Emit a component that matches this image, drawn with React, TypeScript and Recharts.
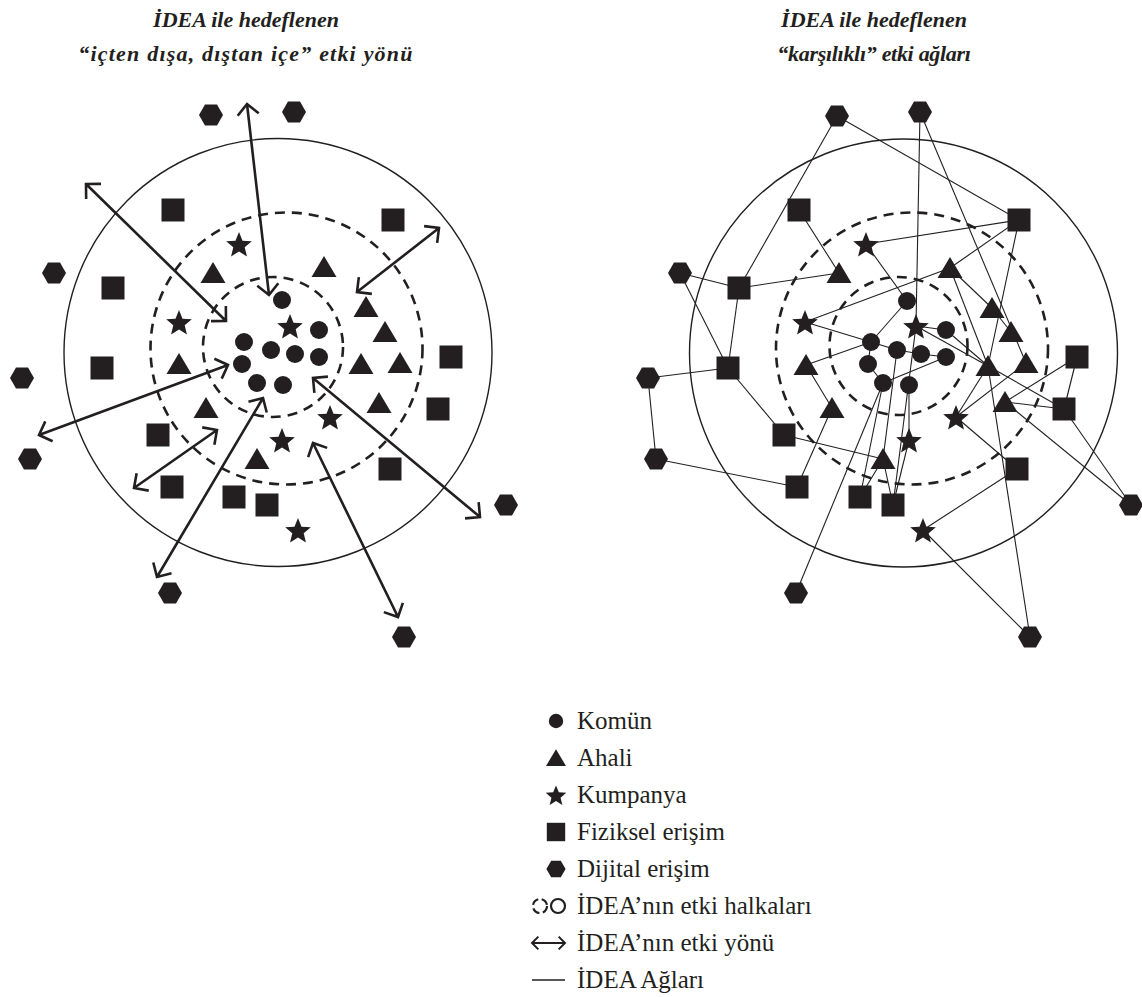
import React from "react";
import { ScatterChart, Scatter, XAxis, YAxis, ReferenceLine } from "recharts";

const INK = "#231f20";
const W = 1142;
const H = 660;

// ---- left diagram: "içten dışa, dıştan içe" (page pixel coords) ----
const leftKomun = [
  { x: 282, y: 300 }, { x: 319, y: 330 }, { x: 244, y: 342 }, { x: 271, y: 350 }, { x: 295, y: 354 },
  { x: 319, y: 357 }, { x: 242, y: 364 }, { x: 257, y: 383 }, { x: 283, y: 385 },
];
const leftAhali = [
  { x: 213, y: 273 }, { x: 324, y: 267 }, { x: 366, y: 307 }, { x: 385, y: 332 }, { x: 179, y: 364 },
  { x: 361, y: 364 }, { x: 400, y: 363 }, { x: 206, y: 408 }, { x: 379, y: 403 }, { x: 257, y: 459 },
];
const leftKumpanya = [
  { x: 239, y: 244 }, { x: 179, y: 322 }, { x: 290, y: 326 }, { x: 330, y: 417 }, { x: 282, y: 440 }, { x: 298, y: 530 },
];
const leftFiziksel = [
  { x: 173, y: 210 }, { x: 113, y: 288 }, { x: 102, y: 368 }, { x: 393, y: 220 }, { x: 451, y: 357 }, { x: 438, y: 409 },
  { x: 158, y: 435 }, { x: 172, y: 487 }, { x: 234, y: 497 }, { x: 267, y: 505 }, { x: 390, y: 469 },
];
const leftDijital = [
  { x: 211, y: 115 }, { x: 294, y: 112 }, { x: 54, y: 273 }, { x: 22, y: 378 },
  { x: 30, y: 459 }, { x: 170, y: 593 }, { x: 506, y: 505 }, { x: 404, y: 637 },
];
const leftArrows = [
  [{ x: 86, y: 184 }, { x: 226, y: 321 }],
  [{ x: 247, y: 104 }, { x: 269, y: 295 }],
  [{ x: 439, y: 228 }, { x: 357, y: 292 }],
  [{ x: 39, y: 435 }, { x: 228, y: 365 }],
  [{ x: 134, y: 488 }, { x: 217, y: 430 }],
  [{ x: 157, y: 577 }, { x: 263, y: 398 }],
  [{ x: 313, y: 378 }, { x: 480, y: 517 }],
  [{ x: 313, y: 443 }, { x: 398, y: 617 }],
];
const leftRings = [
  { x: 278, y: 352.5, r: 214, dashed: false },
  { x: 286.5, y: 348.5, r: 136, dashed: true },
  { x: 273, y: 347, r: 70, dashed: true },
];

// ---- right diagram: "karşılıklı" ----
const rightKomun = [
  { id: "c1", x: 907, y: 301 }, { id: "c2", x: 946, y: 330 }, { id: "c3", x: 871, y: 342 },
  { id: "c4", x: 897, y: 350 }, { id: "c5", x: 921, y: 354 }, { id: "c6", x: 946, y: 357 },
  { id: "c7", x: 868, y: 364 }, { id: "c8", x: 883, y: 383 }, { id: "c9", x: 909, y: 385 },
];
const rightAhali = [
  { id: "t1", x: 839, y: 273 }, { id: "t2", x: 950, y: 268 }, { id: "t3", x: 992, y: 308 },
  { id: "t4", x: 1011, y: 332 }, { id: "t5", x: 806, y: 365 }, { id: "t6", x: 988, y: 366 },
  { id: "t7", x: 1026, y: 363 }, { id: "t8", x: 832, y: 408 }, { id: "t9", x: 1005, y: 402 },
  { id: "t10", x: 883, y: 459 },
];
const rightKumpanya = [
  { id: "k1", x: 866, y: 244 }, { id: "k2", x: 805, y: 322 }, { id: "k3", x: 916, y: 326 },
  { id: "k4", x: 956, y: 417 }, { id: "k5", x: 909, y: 440 }, { id: "k6", x: 923, y: 530 },
];
const rightFiziksel = [
  { id: "s1", x: 799, y: 210 }, { id: "s2", x: 739, y: 288 }, { id: "s3", x: 728, y: 368 },
  { id: "s4", x: 1019, y: 220 }, { id: "s5", x: 1077, y: 357 }, { id: "s6", x: 1064, y: 409 },
  { id: "s7", x: 784, y: 435 }, { id: "s8", x: 797, y: 487 }, { id: "s9", x: 860, y: 497 },
  { id: "s10", x: 893, y: 505 }, { id: "s11", x: 1017, y: 469 },
];
const rightDijital = [
  { id: "d1", x: 837, y: 116 }, { id: "d2", x: 920, y: 112 }, { id: "d3", x: 680, y: 273 },
  { id: "d4", x: 648, y: 378 }, { id: "d5", x: 656, y: 459 }, { id: "d6", x: 796, y: 593 },
  { id: "d7", x: 1131, y: 505 }, { id: "d8", x: 1030, y: 637 },
];
const rightEdges = [
  ["d1", "s4"], ["d1", "s2"], ["d2", "k3"], ["d2", "t7"], ["s4", "k1"], ["s4", "t2"], ["s4", "t6"],
  ["t2", "t3"], ["t2", "t6"], ["t2", "k2"], ["t3", "t4"], ["k3", "t6"], ["c2", "t6"], ["t6", "s6"],
  ["t9", "s6"], ["s5", "t9"], ["k4", "t7"], ["s5", "s6"], ["s6", "d7"], ["t9", "d7"], ["t6", "d8"],
  ["k4", "s11"], ["s11", "k6"], ["k6", "d8"], ["c9", "k5"], ["k5", "s10"], ["t10", "s10"], ["c6", "c8"],
  ["s1", "t1"], ["d3", "s2"], ["s2", "t1"], ["d3", "s3"], ["s2", "s3"], ["k2", "c3"], ["t5", "c3"],
  ["k1", "c1"], ["c1", "c3"], ["d4", "s3"], ["d4", "d5"], ["s3", "s7"], ["d5", "s8"], ["s8", "t8"],
  ["t5", "t8"], ["s7", "t10"], ["d6", "c8"], ["s9", "c8"], ["s9", "t10"], ["k3", "c2"], ["k3", "s10"],
  ["c4", "t10"], ["c3", "c4"], ["c3", "c7"], ["c7", "c8"], ["c4", "c5"], ["c5", "c6"], ["t6", "k4"],
];
const rightRings = [
  { x: 903.5, y: 353, r: 214, dashed: false },
  { x: 912, y: 348.5, r: 136, dashed: true },
  { x: 898.5, y: 346, r: 69, dashed: true },
];

const leftTitle = ["İDEA ile hedeflenen", "“içten dışa, dıştan içe” etki yönü"];
const rightTitle = ["İDEA ile hedeflenen", "“karşılıklı” etki ağları"];
const legendLabels = [
  "Komün", "Ahali", "Kumpanya", "Fiziksel erişim", "Dijital erişim",
  "İDEA’nın etki halkaları", "İDEA’nın etki yönü", "İDEA Ağları",
];
const legendKinds = ["circle", "triangle", "star", "square", "hexagon", "rings", "arrow", "line"];

const nodes = [...rightKomun, ...rightAhali, ...rightKumpanya, ...rightFiziksel, ...rightDijital];
const nodeById: Record<string, { x: number; y: number }> = Object.fromEntries(nodes.map((n) => [n.id, n]));

function polygon(cx: number, cy: number, pts: number[][]) {
  return pts.map(([dx, dy]) => `${cx + dx},${cy + dy}`).join(" ");
}

function Marker({ kind, cx, cy, s = 1 }: { kind: string; cx: number; cy: number; s?: number }) {
  if (kind === "circle") return <circle cx={cx} cy={cy} r={9 * s} fill={INK} />;
  if (kind === "square")
    return <rect x={cx - 11.5 * s} y={cy - 11.5 * s} width={23 * s} height={23 * s} fill={INK} />;
  if (kind === "triangle")
    return <polygon points={polygon(cx, cy, [[0, -11 * s], [12.5 * s, 10 * s], [-12.5 * s, 10 * s]])} fill={INK} />;
  if (kind === "star") {
    const pts: number[][] = [];
    for (let i = 0; i < 10; i++) {
      const r = (i % 2 === 0 ? 13.5 : 6) * s;
      const a = -Math.PI / 2 + (i * Math.PI) / 5;
      pts.push([r * Math.cos(a), r * Math.sin(a) + 1.5 * s]);
    }
    return <polygon points={polygon(cx, cy, pts)} fill={INK} />;
  }
  // hexagon, flat top
  const pts: number[][] = [];
  for (let i = 0; i < 6; i++) {
    const a = (i * Math.PI) / 3;
    pts.push([12 * s * Math.cos(a), 12 * s * Math.sin(a)]);
  }
  return <polygon points={polygon(cx, cy, pts)} fill={INK} />;
}

const markerShape = (kind: string) => (p: any) => <Marker kind={kind} cx={p.cx} cy={p.cy} />;

const ringShape = (p: any) => (
  <circle
    cx={p.cx}
    cy={p.cy}
    r={p.payload.r}
    fill="none"
    stroke={INK}
    strokeWidth={p.payload.dashed ? 2.6 : 1.4}
    strokeDasharray={p.payload.dashed ? "10 7" : undefined}
  />
);

function headPath(x: number, y: number, dir: number, len: number) {
  const a = Math.PI / 4;
  const p1 = [x - len * Math.cos(dir - a), y - len * Math.sin(dir - a)];
  const p2 = [x - len * Math.cos(dir + a), y - len * Math.sin(dir + a)];
  return `M${p1[0]},${p1[1]}L${x},${y}L${p2[0]},${p2[1]}`;
}

function arrowPath(x1: number, y1: number, x2: number, y2: number, len: number) {
  const dir = Math.atan2(y2 - y1, x2 - x1);
  return `M${x1},${y1}L${x2},${y2}` + headPath(x2, y2, dir, len) + headPath(x1, y1, dir + Math.PI, len);
}

const arrowShape = (p: any) => (
  <path
    d={arrowPath(Number(p.x1), Number(p.y1), Number(p.x2), Number(p.y2), 15)}
    stroke={INK}
    strokeWidth={2.6}
    fill="none"
    strokeLinecap="butt"
  />
);

function LegendIcon({ kind }: { kind: string }) {
  let body;
  if (kind === "rings")
    body = (
      <g fill="none" stroke={INK} strokeWidth={2.2}>
        <circle cx={13} cy={12} r={7} strokeDasharray="8 3.5" />
        <circle cx={31} cy={12} r={7} />
      </g>
    );
  else if (kind === "arrow")
    body = <path d={arrowPath(5, 12, 38, 12, 9)} stroke={INK} strokeWidth={2} fill="none" />;
  else if (kind === "line") body = <line x1={5} y1={12} x2={38} y2={12} stroke={INK} strokeWidth={1.4} />;
  else body = <Marker kind={kind} cx={29} cy={12} s={0.8} />;
  return (
    <svg width={40} height={24} style={{ display: "block" }}>
      {body}
    </svg>
  );
}

function Title({ lines, center, spacing }: { lines: string[]; center: number; spacing: number[] }) {
  return (
    <div
      style={{
        position: "absolute",
        left: center - 260,
        width: 520,
        top: 3,
        textAlign: "center",
        fontStyle: "italic",
        fontWeight: "bold",
        fontSize: 22,
        lineHeight: "34px",
      }}
    >
      {lines.map((l, i) => (
        <div key={l} style={{ letterSpacing: spacing[i] }}>
          {l}
        </div>
      ))}
    </div>
  );
}

export default function App() {
  return (
    <div
      style={{
        position: "absolute",
        left: 0,
        top: 0,
        width: W,
        height: 997,
        background: "#fff",
        color: INK,
        fontFamily: '"Liberation Serif", "Times New Roman", serif',
        overflow: "hidden",
      }}
    >
      <div style={{ position: "absolute", left: 0, top: 0 }}>
        <ScatterChart width={W} height={H} margin={{ top: 0, right: 0, bottom: 0, left: 0 }}>
          <XAxis type="number" dataKey="x" domain={[0, W]} hide allowDataOverflow />
          <YAxis type="number" dataKey="y" domain={[0, H]} reversed hide allowDataOverflow />
          <Scatter data={[...leftRings, ...rightRings]} shape={ringShape} isAnimationActive={false} />
          {rightEdges.map(([a, b]) => (
            <ReferenceLine
              key={a + b}
              segment={[
                { x: nodeById[a].x, y: nodeById[a].y },
                { x: nodeById[b].x, y: nodeById[b].y },
              ]}
              stroke={INK}
              strokeWidth={1.1}
            />
          ))}
          {leftArrows.map((seg, i) => (
            <ReferenceLine key={"a" + i} segment={seg} shape={arrowShape} />
          ))}
          <Scatter data={[...leftKomun, ...rightKomun]} shape={markerShape("circle")} isAnimationActive={false} />
          <Scatter data={[...leftAhali, ...rightAhali]} shape={markerShape("triangle")} isAnimationActive={false} />
          <Scatter data={[...leftKumpanya, ...rightKumpanya]} shape={markerShape("star")} isAnimationActive={false} />
          <Scatter data={[...leftFiziksel, ...rightFiziksel]} shape={markerShape("square")} isAnimationActive={false} />
          <Scatter data={[...leftDijital, ...rightDijital]} shape={markerShape("hexagon")} isAnimationActive={false} />
        </ScatterChart>
      </div>

      <Title lines={leftTitle} center={246} spacing={[0, 1.2]} />
      <Title lines={rightTitle} center={874} spacing={[0, -0.3]} />

      {/* Legend */}
      <div style={{ position: "absolute", left: 527, top: 702 }}>
        {legendLabels.map((label, i) => (
          <div key={label} style={{ display: "flex", alignItems: "center", height: 37 }}>
            <LegendIcon kind={legendKinds[i]} />
            <span style={{ marginLeft: 10, fontSize: 25, lineHeight: "37px" }}>{label}</span>
          </div>
        ))}
      </div>
    </div>
  );
}
